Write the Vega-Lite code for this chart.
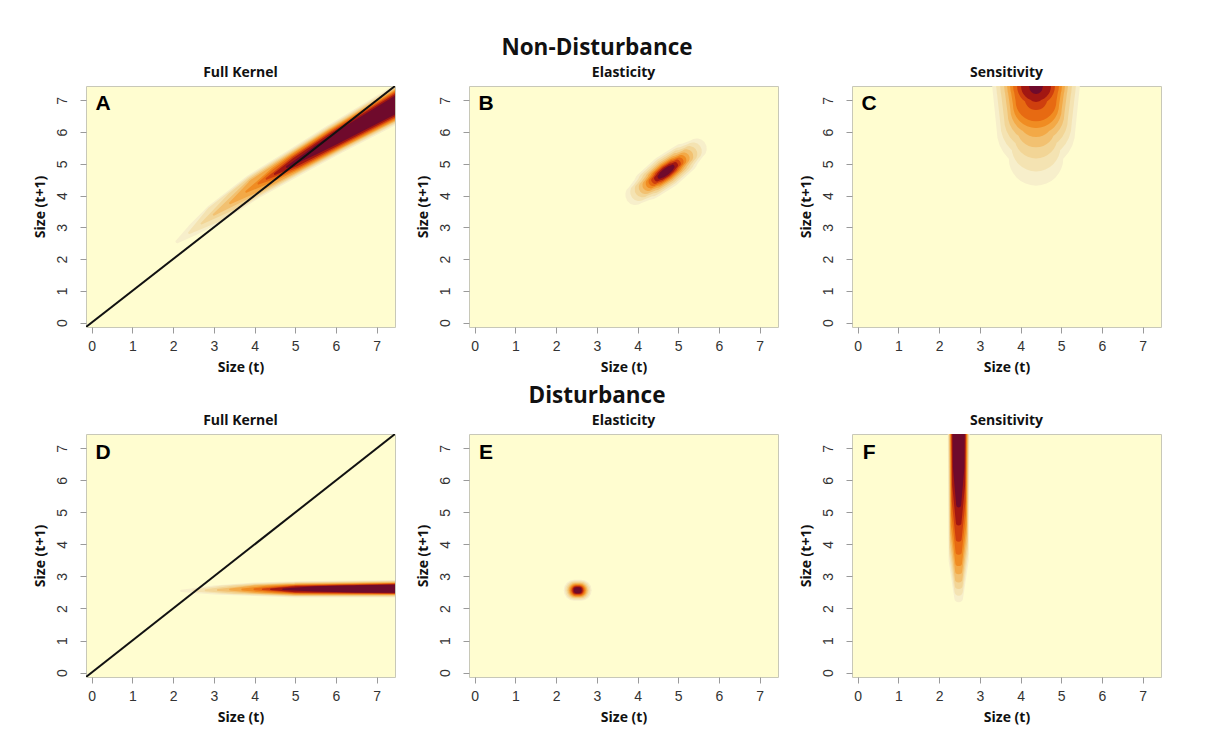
{
"$schema": "https://vega.github.io/schema/vega-lite/v6.json",
"padding": {"left": 32, "top": 36, "right": 5, "bottom": 5},
"background": "white",
"data": {"values": [
{"r":"N","c":"F","t":"c","k":1,"x":2.1,"y":2.55,"w":0.08},{"r":"N","c":"F","t":"c","k":1,"x":2.5,"y":2.93,"w":0.3},{"r":"N","c":"F","t":"c","k":1,"x":3,"y":3.4,"w":0.5},{"r":"N","c":"F","t":"c","k":1,"x":4,"y":4.3,"w":0.62},{"r":"N","c":"F","t":"c","k":1,"x":5,"y":5.05,"w":0.68},{"r":"N","c":"F","t":"c","k":1,"x":6,"y":5.8,"w":0.76},{"r":"N","c":"F","t":"c","k":1,"x":7.7,"y":7.02,"w":0.9},
{"r":"N","c":"F","t":"c","k":2,"x":2.4,"y":2.83,"w":0.06},{"r":"N","c":"F","t":"c","k":2,"x":3,"y":3.4,"w":0.43},{"r":"N","c":"F","t":"c","k":2,"x":4,"y":4.3,"w":0.56},{"r":"N","c":"F","t":"c","k":2,"x":5,"y":5.05,"w":0.62},{"r":"N","c":"F","t":"c","k":2,"x":6,"y":5.8,"w":0.7},{"r":"N","c":"F","t":"c","k":2,"x":7.7,"y":7.02,"w":0.84},
{"r":"N","c":"F","t":"c","k":3,"x":2.7,"y":3.12,"w":0.05},{"r":"N","c":"F","t":"c","k":3,"x":3.5,"y":3.85,"w":0.43},{"r":"N","c":"F","t":"c","k":3,"x":4,"y":4.3,"w":0.5},{"r":"N","c":"F","t":"c","k":3,"x":5,"y":5.05,"w":0.57},{"r":"N","c":"F","t":"c","k":3,"x":6,"y":5.8,"w":0.65},{"r":"N","c":"F","t":"c","k":3,"x":7.7,"y":7.02,"w":0.79},
{"r":"N","c":"F","t":"c","k":4,"x":3.0,"y":3.4,"w":0.05},{"r":"N","c":"F","t":"c","k":4,"x":4,"y":4.3,"w":0.43},{"r":"N","c":"F","t":"c","k":4,"x":5,"y":5.05,"w":0.52},{"r":"N","c":"F","t":"c","k":4,"x":6,"y":5.8,"w":0.6},{"r":"N","c":"F","t":"c","k":4,"x":7.7,"y":7.02,"w":0.74},
{"r":"N","c":"F","t":"c","k":5,"x":3.4,"y":3.76,"w":0.05},{"r":"N","c":"F","t":"c","k":5,"x":4,"y":4.3,"w":0.35},{"r":"N","c":"F","t":"c","k":5,"x":5,"y":5.05,"w":0.47},{"r":"N","c":"F","t":"c","k":5,"x":6,"y":5.8,"w":0.56},{"r":"N","c":"F","t":"c","k":5,"x":7.7,"y":7.02,"w":0.7},
{"r":"N","c":"F","t":"c","k":6,"x":3.8,"y":4.12,"w":0.05},{"r":"N","c":"F","t":"c","k":6,"x":4.5,"y":4.68,"w":0.32},{"r":"N","c":"F","t":"c","k":6,"x":5,"y":5.05,"w":0.42},{"r":"N","c":"F","t":"c","k":6,"x":6,"y":5.8,"w":0.52},{"r":"N","c":"F","t":"c","k":6,"x":7.7,"y":7.02,"w":0.66},
{"r":"N","c":"F","t":"c","k":7,"x":4.1,"y":4.38,"w":0.05},{"r":"N","c":"F","t":"c","k":7,"x":4.5,"y":4.68,"w":0.24},{"r":"N","c":"F","t":"c","k":7,"x":5,"y":5.05,"w":0.36},{"r":"N","c":"F","t":"c","k":7,"x":6,"y":5.8,"w":0.47},{"r":"N","c":"F","t":"c","k":7,"x":7.7,"y":7.02,"w":0.61},
{"r":"N","c":"F","t":"c","k":8,"x":4.3,"y":4.53,"w":0.05},{"r":"N","c":"F","t":"c","k":8,"x":5,"y":5.05,"w":0.3},{"r":"N","c":"F","t":"c","k":8,"x":6,"y":5.8,"w":0.42},{"r":"N","c":"F","t":"c","k":8,"x":7.7,"y":7.02,"w":0.56},
{"r":"N","c":"F","t":"c","k":9,"x":4.5,"y":4.68,"w":0.05},{"r":"N","c":"F","t":"c","k":9,"x":5,"y":5.05,"w":0.22},{"r":"N","c":"F","t":"c","k":9,"x":6,"y":5.8,"w":0.36},{"r":"N","c":"F","t":"c","k":9,"x":7.7,"y":7.02,"w":0.5},
{"r":"N","c":"F","t":"c","k":10,"x":4.8,"y":4.9,"w":0.05},{"r":"N","c":"F","t":"c","k":10,"x":5.5,"y":5.43,"w":0.2},{"r":"N","c":"F","t":"c","k":10,"x":6,"y":5.8,"w":0.28},{"r":"N","c":"F","t":"c","k":10,"x":7.7,"y":7.02,"w":0.42},

{"r":"N","c":"E","t":"c","k":1,"x":3.949,"y":4.021,"w":0.499},{"r":"N","c":"E","t":"c","k":1,"x":4.278,"y":4.34,"w":0.743},{"r":"N","c":"E","t":"c","k":1,"x":4.7,"y":4.75,"w":0.832},{"r":"N","c":"E","t":"c","k":1,"x":5.122,"y":5.16,"w":0.743},{"r":"N","c":"E","t":"c","k":1,"x":5.451,"y":5.479,"w":0.499},
{"r":"N","c":"E","t":"c","k":2,"x":4.039,"y":4.108,"w":0.439},{"r":"N","c":"E","t":"c","k":2,"x":4.328,"y":4.389,"w":0.654},{"r":"N","c":"E","t":"c","k":2,"x":4.7,"y":4.75,"w":0.732},{"r":"N","c":"E","t":"c","k":2,"x":5.072,"y":5.111,"w":0.654},{"r":"N","c":"E","t":"c","k":2,"x":5.361,"y":5.392,"w":0.439},
{"r":"N","c":"E","t":"c","k":3,"x":4.122,"y":4.189,"w":0.384},{"r":"N","c":"E","t":"c","k":3,"x":4.375,"y":4.434,"w":0.572},{"r":"N","c":"E","t":"c","k":3,"x":4.7,"y":4.75,"w":0.641},{"r":"N","c":"E","t":"c","k":3,"x":5.025,"y":5.066,"w":0.572},{"r":"N","c":"E","t":"c","k":3,"x":5.278,"y":5.311,"w":0.384},
{"r":"N","c":"E","t":"c","k":4,"x":4.197,"y":4.261,"w":0.335},{"r":"N","c":"E","t":"c","k":4,"x":4.417,"y":4.475,"w":0.498},{"r":"N","c":"E","t":"c","k":4,"x":4.7,"y":4.75,"w":0.558},{"r":"N","c":"E","t":"c","k":4,"x":4.983,"y":5.025,"w":0.498},{"r":"N","c":"E","t":"c","k":4,"x":5.203,"y":5.239,"w":0.335},
{"r":"N","c":"E","t":"c","k":5,"x":4.265,"y":4.327,"w":0.29},{"r":"N","c":"E","t":"c","k":5,"x":4.455,"y":4.512,"w":0.431},{"r":"N","c":"E","t":"c","k":5,"x":4.7,"y":4.75,"w":0.483},{"r":"N","c":"E","t":"c","k":5,"x":4.945,"y":4.988,"w":0.431},{"r":"N","c":"E","t":"c","k":5,"x":5.135,"y":5.173,"w":0.29},
{"r":"N","c":"E","t":"c","k":6,"x":4.325,"y":4.385,"w":0.25},{"r":"N","c":"E","t":"c","k":6,"x":4.489,"y":4.545,"w":0.372},{"r":"N","c":"E","t":"c","k":6,"x":4.7,"y":4.75,"w":0.416},{"r":"N","c":"E","t":"c","k":6,"x":4.911,"y":4.955,"w":0.372},{"r":"N","c":"E","t":"c","k":6,"x":5.075,"y":5.115,"w":0.25},
{"r":"N","c":"E","t":"c","k":7,"x":4.377,"y":4.436,"w":0.215},{"r":"N","c":"E","t":"c","k":7,"x":4.518,"y":4.574,"w":0.32},{"r":"N","c":"E","t":"c","k":7,"x":4.7,"y":4.75,"w":0.358},{"r":"N","c":"E","t":"c","k":7,"x":4.882,"y":4.926,"w":0.32},{"r":"N","c":"E","t":"c","k":7,"x":5.023,"y":5.064,"w":0.215},
{"r":"N","c":"E","t":"c","k":8,"x":4.43,"y":4.487,"w":0.18},{"r":"N","c":"E","t":"c","k":8,"x":4.548,"y":4.602,"w":0.268},{"r":"N","c":"E","t":"c","k":8,"x":4.7,"y":4.75,"w":0.3},{"r":"N","c":"E","t":"c","k":8,"x":4.852,"y":4.898,"w":0.268},{"r":"N","c":"E","t":"c","k":8,"x":4.97,"y":5.013,"w":0.18},
{"r":"N","c":"E","t":"c","k":9,"x":4.482,"y":4.539,"w":0.145},{"r":"N","c":"E","t":"c","k":9,"x":4.578,"y":4.631,"w":0.215},{"r":"N","c":"E","t":"c","k":9,"x":4.7,"y":4.75,"w":0.241},{"r":"N","c":"E","t":"c","k":9,"x":4.822,"y":4.869,"w":0.215},{"r":"N","c":"E","t":"c","k":9,"x":4.918,"y":4.961,"w":0.145},
{"r":"N","c":"E","t":"c","k":10,"x":4.542,"y":4.597,"w":0.105},{"r":"N","c":"E","t":"c","k":10,"x":4.611,"y":4.664,"w":0.156},{"r":"N","c":"E","t":"c","k":10,"x":4.7,"y":4.75,"w":0.175},{"r":"N","c":"E","t":"c","k":10,"x":4.789,"y":4.836,"w":0.156},{"r":"N","c":"E","t":"c","k":10,"x":4.858,"y":4.903,"w":0.105},

{"r":"N","c":"S","t":"c","k":1,"x":4.38,"y":7.8,"w":2.154},{"r":"N","c":"S","t":"c","k":1,"x":4.38,"y":7.45,"w":2.154},{"r":"N","c":"S","t":"c","k":1,"x":4.38,"y":6.05,"w":1.93},{"r":"N","c":"S","t":"c","k":1,"x":4.38,"y":5.17,"w":1.34},
{"r":"N","c":"S","t":"c","k":2,"x":4.38,"y":7.8,"w":1.958},{"r":"N","c":"S","t":"c","k":2,"x":4.38,"y":7.45,"w":1.958},{"r":"N","c":"S","t":"c","k":2,"x":4.38,"y":6.25,"w":1.75},{"r":"N","c":"S","t":"c","k":2,"x":4.38,"y":5.53,"w":1.2},
{"r":"N","c":"S","t":"c","k":3,"x":4.38,"y":7.8,"w":1.762},{"r":"N","c":"S","t":"c","k":3,"x":4.38,"y":7.45,"w":1.762},{"r":"N","c":"S","t":"c","k":3,"x":4.38,"y":6.42,"w":1.567},{"r":"N","c":"S","t":"c","k":3,"x":4.38,"y":5.85,"w":1.06},
{"r":"N","c":"S","t":"c","k":4,"x":4.38,"y":7.8,"w":1.566},{"r":"N","c":"S","t":"c","k":4,"x":4.38,"y":7.45,"w":1.566},{"r":"N","c":"S","t":"c","k":4,"x":4.38,"y":6.58,"w":1.395},{"r":"N","c":"S","t":"c","k":4,"x":4.38,"y":6.12,"w":0.94},
{"r":"N","c":"S","t":"c","k":5,"x":4.38,"y":7.8,"w":1.42},{"r":"N","c":"S","t":"c","k":5,"x":4.38,"y":7.45,"w":1.42},{"r":"N","c":"S","t":"c","k":5,"x":4.38,"y":6.726,"w":1.263},{"r":"N","c":"S","t":"c","k":5,"x":4.38,"y":6.39,"w":0.852},
{"r":"N","c":"S","t":"c","k":6,"x":4.38,"y":7.8,"w":1.273},{"r":"N","c":"S","t":"c","k":6,"x":4.38,"y":7.45,"w":1.273},{"r":"N","c":"S","t":"c","k":6,"x":4.38,"y":6.854,"w":1.131},{"r":"N","c":"S","t":"c","k":6,"x":4.38,"y":6.617,"w":0.764},
{"r":"N","c":"S","t":"c","k":7,"x":4.38,"y":7.8,"w":1.126},{"r":"N","c":"S","t":"c","k":7,"x":4.38,"y":7.45,"w":1.126},{"r":"N","c":"S","t":"c","k":7,"x":4.38,"y":6.982,"w":1.004},{"r":"N","c":"S","t":"c","k":7,"x":4.38,"y":6.844,"w":0.676},
{"r":"N","c":"S","t":"c","k":8,"x":4.38,"y":7.8,"w":0.93},{"r":"N","c":"S","t":"c","k":8,"x":4.38,"y":7.45,"w":0.93},{"r":"N","c":"S","t":"c","k":8,"x":4.38,"y":7.053,"w":0.558},
{"r":"N","c":"S","t":"c","k":9,"x":4.38,"y":7.8,"w":0.734},{"r":"N","c":"S","t":"c","k":9,"x":4.38,"y":7.45,"w":0.734},{"r":"N","c":"S","t":"c","k":9,"x":4.38,"y":7.229,"w":0.441},
{"r":"N","c":"S","t":"c","k":10,"x":4.38,"y":7.8,"w":0.539},{"r":"N","c":"S","t":"c","k":10,"x":4.38,"y":7.406,"w":0.323},

{"r":"D","c":"F","t":"c","k":1,"x":2.2,"y":2.55,"w":0.05},{"r":"D","c":"F","t":"c","k":1,"x":3,"y":2.58,"w":0.22},{"r":"D","c":"F","t":"c","k":1,"x":4,"y":2.6,"w":0.33},{"r":"D","c":"F","t":"c","k":1,"x":5,"y":2.6,"w":0.4},{"r":"D","c":"F","t":"c","k":1,"x":7.7,"y":2.62,"w":0.43},
{"r":"D","c":"F","t":"c","k":2,"x":2.5,"y":2.56,"w":0.05},{"r":"D","c":"F","t":"c","k":2,"x":3.2,"y":2.59,"w":0.2},{"r":"D","c":"F","t":"c","k":2,"x":4,"y":2.6,"w":0.29},{"r":"D","c":"F","t":"c","k":2,"x":5,"y":2.6,"w":0.36},{"r":"D","c":"F","t":"c","k":2,"x":7.7,"y":2.62,"w":0.4},
{"r":"D","c":"F","t":"c","k":3,"x":2.8,"y":2.57,"w":0.05},{"r":"D","c":"F","t":"c","k":3,"x":3.5,"y":2.59,"w":0.2},{"r":"D","c":"F","t":"c","k":3,"x":4,"y":2.6,"w":0.25},{"r":"D","c":"F","t":"c","k":3,"x":5,"y":2.6,"w":0.33},{"r":"D","c":"F","t":"c","k":3,"x":7.7,"y":2.62,"w":0.37},
{"r":"D","c":"F","t":"c","k":4,"x":3.1,"y":2.58,"w":0.05},{"r":"D","c":"F","t":"c","k":4,"x":4,"y":2.6,"w":0.22},{"r":"D","c":"F","t":"c","k":4,"x":5,"y":2.6,"w":0.3},{"r":"D","c":"F","t":"c","k":4,"x":7.7,"y":2.62,"w":0.34},
{"r":"D","c":"F","t":"c","k":5,"x":3.4,"y":2.59,"w":0.05},{"r":"D","c":"F","t":"c","k":5,"x":4,"y":2.6,"w":0.18},{"r":"D","c":"F","t":"c","k":5,"x":5,"y":2.6,"w":0.27},{"r":"D","c":"F","t":"c","k":5,"x":7.7,"y":2.62,"w":0.31},
{"r":"D","c":"F","t":"c","k":6,"x":3.7,"y":2.59,"w":0.05},{"r":"D","c":"F","t":"c","k":6,"x":4.3,"y":2.6,"w":0.17},{"r":"D","c":"F","t":"c","k":6,"x":5,"y":2.6,"w":0.24},{"r":"D","c":"F","t":"c","k":6,"x":7.7,"y":2.62,"w":0.29},
{"r":"D","c":"F","t":"c","k":7,"x":4,"y":2.6,"w":0.05},{"r":"D","c":"F","t":"c","k":7,"x":4.5,"y":2.6,"w":0.15},{"r":"D","c":"F","t":"c","k":7,"x":5,"y":2.6,"w":0.21},{"r":"D","c":"F","t":"c","k":7,"x":7.7,"y":2.62,"w":0.27},
{"r":"D","c":"F","t":"c","k":8,"x":4.2,"y":2.6,"w":0.04},{"r":"D","c":"F","t":"c","k":8,"x":5,"y":2.6,"w":0.18},{"r":"D","c":"F","t":"c","k":8,"x":7.7,"y":2.62,"w":0.25},
{"r":"D","c":"F","t":"c","k":9,"x":4.4,"y":2.6,"w":0.04},{"r":"D","c":"F","t":"c","k":9,"x":5,"y":2.6,"w":0.15},{"r":"D","c":"F","t":"c","k":9,"x":7.7,"y":2.62,"w":0.23},
{"r":"D","c":"F","t":"c","k":10,"x":4.7,"y":2.6,"w":0.04},{"r":"D","c":"F","t":"c","k":10,"x":5.5,"y":2.61,"w":0.13},{"r":"D","c":"F","t":"c","k":10,"x":6.5,"y":2.61,"w":0.18},{"r":"D","c":"F","t":"c","k":10,"x":7.7,"y":2.62,"w":0.2},

{"r":"D","c":"E","t":"c","k":1,"x":2.444,"y":2.57,"w":0.514},{"r":"D","c":"E","t":"c","k":1,"x":2.616,"y":2.57,"w":0.514},
{"r":"D","c":"E","t":"c","k":2,"x":2.453,"y":2.57,"w":0.463},{"r":"D","c":"E","t":"c","k":2,"x":2.607,"y":2.57,"w":0.463},
{"r":"D","c":"E","t":"c","k":3,"x":2.461,"y":2.57,"w":0.411},{"r":"D","c":"E","t":"c","k":3,"x":2.599,"y":2.57,"w":0.411},
{"r":"D","c":"E","t":"c","k":4,"x":2.468,"y":2.57,"w":0.37},{"r":"D","c":"E","t":"c","k":4,"x":2.592,"y":2.57,"w":0.37},
{"r":"D","c":"E","t":"c","k":5,"x":2.475,"y":2.57,"w":0.329},{"r":"D","c":"E","t":"c","k":5,"x":2.585,"y":2.57,"w":0.329},
{"r":"D","c":"E","t":"c","k":6,"x":2.481,"y":2.57,"w":0.293},{"r":"D","c":"E","t":"c","k":6,"x":2.579,"y":2.57,"w":0.293},
{"r":"D","c":"E","t":"c","k":7,"x":2.487,"y":2.57,"w":0.257},{"r":"D","c":"E","t":"c","k":7,"x":2.573,"y":2.57,"w":0.257},
{"r":"D","c":"E","t":"c","k":8,"x":2.493,"y":2.57,"w":0.221},{"r":"D","c":"E","t":"c","k":8,"x":2.567,"y":2.57,"w":0.221},
{"r":"D","c":"E","t":"c","k":9,"x":2.499,"y":2.57,"w":0.185},{"r":"D","c":"E","t":"c","k":9,"x":2.561,"y":2.57,"w":0.185},
{"r":"D","c":"E","t":"c","k":10,"x":2.506,"y":2.57,"w":0.144},{"r":"D","c":"E","t":"c","k":10,"x":2.554,"y":2.57,"w":0.144},

{"r":"D","c":"S","t":"c","k":1,"x":2.48,"y":7.8,"w":0.538},{"r":"D","c":"S","t":"c","k":1,"x":2.48,"y":3.5,"w":0.495},{"r":"D","c":"S","t":"c","k":1,"x":2.48,"y":2.33,"w":0.215},
{"r":"D","c":"S","t":"c","k":2,"x":2.48,"y":7.8,"w":0.514},{"r":"D","c":"S","t":"c","k":2,"x":2.48,"y":3.7,"w":0.473},{"r":"D","c":"S","t":"c","k":2,"x":2.48,"y":2.53,"w":0.206},
{"r":"D","c":"S","t":"c","k":3,"x":2.48,"y":7.8,"w":0.49},{"r":"D","c":"S","t":"c","k":3,"x":2.48,"y":3.9,"w":0.451},{"r":"D","c":"S","t":"c","k":3,"x":2.48,"y":2.73,"w":0.196},
{"r":"D","c":"S","t":"c","k":4,"x":2.48,"y":7.8,"w":0.465},{"r":"D","c":"S","t":"c","k":4,"x":2.48,"y":4.1,"w":0.428},{"r":"D","c":"S","t":"c","k":4,"x":2.48,"y":2.93,"w":0.186},
{"r":"D","c":"S","t":"c","k":5,"x":2.48,"y":7.8,"w":0.44},{"r":"D","c":"S","t":"c","k":5,"x":2.48,"y":4.35,"w":0.405},{"r":"D","c":"S","t":"c","k":5,"x":2.48,"y":3.18,"w":0.176},
{"r":"D","c":"S","t":"c","k":6,"x":2.48,"y":7.8,"w":0.416},{"r":"D","c":"S","t":"c","k":6,"x":2.48,"y":4.6,"w":0.383},{"r":"D","c":"S","t":"c","k":6,"x":2.48,"y":3.43,"w":0.166},
{"r":"D","c":"S","t":"c","k":7,"x":2.48,"y":7.8,"w":0.39},{"r":"D","c":"S","t":"c","k":7,"x":2.48,"y":4.95,"w":0.359},{"r":"D","c":"S","t":"c","k":7,"x":2.48,"y":3.78,"w":0.156},
{"r":"D","c":"S","t":"c","k":8,"x":2.48,"y":7.8,"w":0.367},{"r":"D","c":"S","t":"c","k":8,"x":2.48,"y":5.35,"w":0.338},{"r":"D","c":"S","t":"c","k":8,"x":2.48,"y":4.18,"w":0.147},
{"r":"D","c":"S","t":"c","k":9,"x":2.48,"y":7.8,"w":0.343},{"r":"D","c":"S","t":"c","k":9,"x":2.48,"y":5.85,"w":0.316},{"r":"D","c":"S","t":"c","k":9,"x":2.48,"y":4.68,"w":0.137},
{"r":"D","c":"S","t":"c","k":10,"x":2.48,"y":7.8,"w":0.306},{"r":"D","c":"S","t":"c","k":10,"x":2.48,"y":6.4,"w":0.282},{"r":"D","c":"S","t":"c","k":10,"x":2.48,"y":5.23,"w":0.122},

{"r":"N","c":"F","t":"l","x":-0.3,"y":-0.3},{"r":"N","c":"F","t":"l","x":7.7,"y":7.7},
{"r":"D","c":"F","t":"l","x":-0.3,"y":-0.3},{"r":"D","c":"F","t":"l","x":7.7,"y":7.7},

{"r":"N","c":"F","t":"L","x":0.28,"y":6.88,"s":"A"},{"r":"N","c":"E","t":"L","x":0.28,"y":6.88,"s":"B"},{"r":"N","c":"S","t":"L","x":0.28,"y":6.88,"s":"C"},
{"r":"D","c":"F","t":"L","x":0.28,"y":6.86,"s":"D"},{"r":"D","c":"E","t":"L","x":0.28,"y":6.86,"s":"E"},{"r":"D","c":"S","t":"L","x":0.28,"y":6.86,"s":"F"}
]},
"spacing": 9,
"vconcat": [
{
 "title": "Non-Disturbance",
 "transform": [{"filter": "datum.r == 'N'"}],
 "facet": {"column": {"field": "c", "type": "nominal", "sort": ["F","E","S"], "header": {"title": null, "labelExpr": "datum.value == 'F' ? 'Full Kernel' : datum.value == 'E' ? 'Elasticity' : 'Sensitivity'"}}},
 "spacing": 74,
 "bounds": "flush",
 "resolve": {"axis": {"x": "independent", "y": "independent"}},
 "spec": {
  "width": 309, "height": 241,
  "encoding": {
   "x": {"field": "x", "type": "quantitative", "scale": {"domain": [-0.14, 7.45], "nice": false, "zero": false}, "axis": {"title": "Size (t)", "values": [0,1,2,3,4,5,6,7], "tickCount": 8}},
   "y": {"field": "y", "type": "quantitative", "scale": {"domain": [-0.14, 7.45], "nice": false, "zero": false}, "axis": {"title": "Size (t+1)", "values": [0,1,2,3,4,5,6,7], "tickCount": 8}}
  },
  "layer": [
   {"transform": [{"filter": "datum.t == 'c'"}],
    "mark": {"type": "trail", "clip": true},
    "encoding": {
     "size": {"field": "w", "type": "quantitative", "scale": {"type": "linear", "domain": [0, 1], "range": [0, 40.71]}, "legend": null},
     "color": {"field": "k", "type": "ordinal", "scale": {"domain": [1,2,3,4,5,6,7,8,9,10], "range": ["#f7efcb","#f4e3b2","#f2d596","#f2c171","#f3a947","#f08c22","#e76a12","#cf3f0e","#a21712","#6f0a2c"]}, "legend": null},
     "order": {"value": null}
    }},
   {"transform": [{"filter": "datum.t == 'l'"}],
    "mark": {"type": "line", "clip": true, "color": "#111111", "strokeWidth": 2},
    "encoding": {}},
   {"transform": [{"filter": "datum.t == 'L'"}],
    "mark": {"type": "text", "font": "Liberation Sans", "fontSize": 21, "fontWeight": "bold", "color": "#000000", "align": "center", "baseline": "middle"},
    "encoding": {"text": {"field": "s"}}}
  ]
 }
},
{
 "title": "Disturbance",
 "transform": [{"filter": "datum.r == 'D'"}],
 "facet": {"column": {"field": "c", "type": "nominal", "sort": ["F","E","S"], "header": {"title": null, "labelExpr": "datum.value == 'F' ? 'Full Kernel' : datum.value == 'E' ? 'Elasticity' : 'Sensitivity'"}}},
 "spacing": 74,
 "bounds": "flush",
 "resolve": {"axis": {"x": "independent", "y": "independent"}},
 "spec": {
  "width": 309, "height": 243,
  "encoding": {
   "x": {"field": "x", "type": "quantitative", "scale": {"domain": [-0.14, 7.45], "nice": false, "zero": false}, "axis": {"title": "Size (t)", "values": [0,1,2,3,4,5,6,7], "tickCount": 8}},
   "y": {"field": "y", "type": "quantitative", "scale": {"domain": [-0.14, 7.45], "nice": false, "zero": false}, "axis": {"title": "Size (t+1)", "values": [0,1,2,3,4,5,6,7], "tickCount": 8}}
  },
  "layer": [
   {"transform": [{"filter": "datum.t == 'c'"}],
    "mark": {"type": "trail", "clip": true},
    "encoding": {
     "size": {"field": "w", "type": "quantitative", "scale": {"type": "linear", "domain": [0, 1], "range": [0, 40.71]}, "legend": null},
     "color": {"field": "k", "type": "ordinal", "scale": {"domain": [1,2,3,4,5,6,7,8,9,10], "range": ["#f7efcb","#f4e3b2","#f2d596","#f2c171","#f3a947","#f08c22","#e76a12","#cf3f0e","#a21712","#6f0a2c"]}, "legend": null},
     "order": {"value": null}
    }},
   {"transform": [{"filter": "datum.t == 'l'"}],
    "mark": {"type": "line", "clip": true, "color": "#111111", "strokeWidth": 2},
    "encoding": {}},
   {"transform": [{"filter": "datum.t == 'L'"}],
    "mark": {"type": "text", "font": "Liberation Sans", "fontSize": 21, "fontWeight": "bold", "color": "#000000", "align": "center", "baseline": "middle"},
    "encoding": {"text": {"field": "s"}}}
  ]
 }
}
],
"config": {
 "view": {"stroke": "#c8c8b8", "fill": "#fffdd0"},
 "axis": {"domain": false, "grid": false, "tickColor": "#9a9a9a", "tickSize": 6, "labelFont": "Liberation Sans", "labelFontSize": 14, "labelColor": "#333333", "labelOverlap": false, "titleFont": "Open Sans", "titleFontSize": 14, "titleFontWeight": "bold", "titleColor": "#111111", "labelPadding": 6, "titlePadding": 7},
 "axisY": {"labelAngle": -90, "labelPadding": 11, "titlePadding": 8},
 "header": {"labelFont": "Open Sans", "labelFontSize": 14, "labelFontWeight": "bold", "labelColor": "#111111", "labelPadding": 6},
 "title": {"font": "Open Sans", "fontSize": 22.5, "fontWeight": "bold", "color": "#111111", "anchor": "middle", "offset": 7}
}
}
